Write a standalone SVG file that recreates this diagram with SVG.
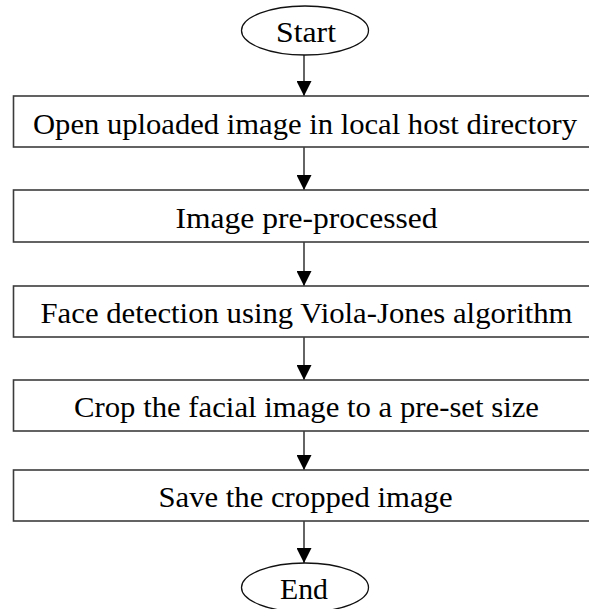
<svg xmlns="http://www.w3.org/2000/svg" width="589" height="609" viewBox="0 0 589 609">
<defs>
<style>
.box{fill:#fff;stroke:#3c3c3c;stroke-width:1.6}
.term{fill:#fff;stroke:#111;stroke-width:1.3}
.lbl{font-family:"Liberation Serif","DejaVu Serif",serif;font-size:30px;fill:#000;text-anchor:middle}
.edge{stroke:#111;stroke-width:1.3;fill:none;marker-end:url(#ah)}
</style>
<marker id="ah" viewBox="0 0 15 15" refX="15" refY="7.5" markerWidth="15" markerHeight="15" markerUnits="userSpaceOnUse" orient="auto">
<path d="M0,0 L15,7.5 L0,15 Z" fill="#000"/>
</marker>
</defs>
<rect width="589" height="609" fill="#fff"/>
<g id="connectors">
<line class="edge" x1="304" y1="55" x2="304" y2="96"/>
<line class="edge" x1="304" y1="147" x2="304" y2="190"/>
<line class="edge" x1="304" y1="242" x2="304" y2="286"/>
<line class="edge" x1="304" y1="337" x2="304" y2="380"/>
<line class="edge" x1="304" y1="431" x2="304" y2="470"/>
<line class="edge" x1="304" y1="521" x2="304" y2="563"/>
</g>
<g id="start">
<ellipse class="term" cx="305" cy="30.5" rx="63.5" ry="24.5"/>
<text class="lbl" x="306" y="42" textLength="60" lengthAdjust="spacingAndGlyphs">Start</text>
</g>
<g id="open">
<rect class="box" x="13.5" y="96" width="582" height="51"/>
<text class="lbl" x="305" y="133.5" textLength="544" lengthAdjust="spacingAndGlyphs">Open uploaded image in local host directory</text>
</g>
<g id="preprocess">
<rect class="box" x="13.5" y="190" width="582" height="52"/>
<text class="lbl" x="306.5" y="227.5" textLength="262" lengthAdjust="spacingAndGlyphs">Image pre-processed</text>
</g>
<g id="detect">
<rect class="box" x="13.5" y="286" width="582" height="51"/>
<text class="lbl" x="306.5" y="323" textLength="532" lengthAdjust="spacingAndGlyphs">Face detection using Viola-Jones algorithm</text>
</g>
<g id="crop">
<rect class="box" x="13.5" y="380" width="582" height="51"/>
<text class="lbl" x="306.5" y="417" textLength="465" lengthAdjust="spacingAndGlyphs">Crop the facial image to a pre-set size</text>
</g>
<g id="save">
<rect class="box" x="13.5" y="470" width="582" height="51"/>
<text class="lbl" x="305.5" y="507" textLength="294" lengthAdjust="spacingAndGlyphs">Save the cropped image</text>
</g>
<g id="end">
<ellipse class="term" cx="305" cy="587.5" rx="63.5" ry="24.5"/>
<text class="lbl" x="304" y="599" textLength="48" lengthAdjust="spacingAndGlyphs">End</text>
</g>
</svg>
